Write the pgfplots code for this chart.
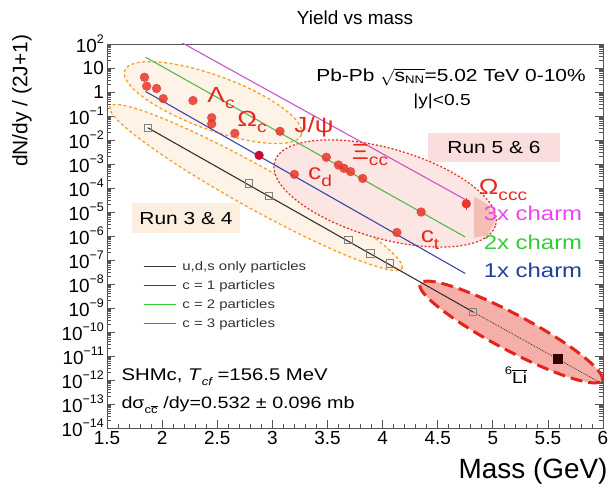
\documentclass[border=0pt]{standalone}
\usepackage{pgfplots}
\pgfplotsset{compat=1.18}
\usepackage{fontspec}
\setmainfont{Liberation Sans}[FakeStretch=1.2]
\newfontfamily\plainsans{Liberation Sans}
\definecolor{axisgray}{HTML}{555555}
\definecolor{ptred}{HTML}{E8362B}
\definecolor{ptdark}{HTML}{C0102E}
\definecolor{lblack}{HTML}{333333}
\definecolor{lblue}{HTML}{3A46A8}
\definecolor{lgreen}{HTML}{55B84F}
\definecolor{lmag}{HTML}{C855C8}
\definecolor{legblue}{HTML}{2233DD}
\definecolor{leggreen}{HTML}{33CC33}
\definecolor{legmag}{HTML}{EE22DD}
\definecolor{txtmag}{HTML}{EE44EE}
\definecolor{txtgreen}{HTML}{33CC33}
\definecolor{txtblue}{HTML}{1F3F9F}
\definecolor{labred}{HTML}{E8281E}
\definecolor{orng}{HTML}{F5A02A}
\definecolor{orngfill}{HTML}{FDF2E4}
\definecolor{redfill}{HTML}{FBE6E4}
\definecolor{runfive}{HTML}{FADEDE}
\definecolor{runthree}{HTML}{FCEFDF}
\definecolor{lifill}{HTML}{F6AFA8}
\definecolor{lired}{HTML}{E3241B}
\definecolor{salmon}{HTML}{F4BDB5}
\definecolor{legtext}{HTML}{333333}
\newcommand\fs[1]{\fontsize{#1}{#1}\selectfont}
\newcommand\sups[1]{\raisebox{0.55em}{\fs{11}#1}}
\newcommand\tsup[1]{\raisebox{0.5em}{\fs{12.5}#1}}
\newcommand\subs[2]{\raisebox{-0.3em}{\fs{#1}#2}}
\begin{document}
\begin{tikzpicture}
\useasboundingbox (0,0) rectangle (613bp,489bp);
% boxes
\fill[runfive] (428bp,327bp) rectangle (560bp,356bp);
\fill[runthree] (132bp,256bp) rectangle (240bp,286bp);
\begin{axis}[
  at={(107bp,61bp)}, anchor=south west, scale only axis,
  width=496bp, height=384bp,
  xmin=1.5, xmax=6, ymin=1e-14, ymax=1e2, ymode=log,
  axis line style={color=axisgray, line width=0.8bp},
  every tick/.style={color=axisgray, line width=0.6bp},
  major tick length=8bp, minor tick length=4bp,
  xtick={1.5,2,2.5,3,3.5,4,4.5,5,5.5,6}, minor x tick num=4,
  xticklabels={1.5,2,2.5,3,3.5,4,4.5,5,5.5,6},
  xtick pos=left, ytick pos=both,
  ytick={1e-14,1e-13,1e-12,1e-11,1e-10,1e-9,1e-8,1e-7,1e-6,1e-5,1e-4,1e-3,1e-2,1e-1,1,10,100},
  yticklabels={10\tsup{−14},10\tsup{−13},10\tsup{−12},10\tsup{−11},10\tsup{−10},10\tsup{−9},10\tsup{−8},10\tsup{−7},10\tsup{−6},10\tsup{−5},10\tsup{−4},10\tsup{−3},10\tsup{−2},10\tsup{−1},1,10,10\tsup{2}},
  yticklabel style={font=\plainsans\fs{19}, color=black, inner xsep=3bp},
  xticklabel style={font=\plainsans\fs{19}, color=black},
  legend image code/.code={\draw[#1,line width=1.5bp] (0bp,0bp) -- (32bp,0bp);},
  legend cell align=left,
  legend style={at={(rel axis cs:0.066,0.445)}, anchor=north west, draw=none, fill=none,
    font=\fs{12.5}\color{legtext}, row sep=4.5bp, column sep=4bp,
    nodes={inner sep=2bp}},
]
% ellipses
\draw[orng, line width=1.3bp, dash pattern=on 3bp off 2.5bp, fill=orngfill, fill opacity=0.9, draw opacity=1]
  [rotate around={-20:(axis cs:2.462,0.361)}] (axis cs:2.462,0.361) ellipse [x radius=94bp, y radius=27bp];
\draw[orng, line width=1.3bp, dash pattern=on 3bp off 2.5bp, fill=orngfill, fill opacity=0.9, draw opacity=1]
  [rotate around={-29:(axis cs:2.852,1.05e-4)}] (axis cs:2.852,1.05e-4) ellipse [x radius=167bp, y radius=21bp];
\draw[labred, line width=1.2bp, dash pattern=on 2bp off 2bp, fill=redfill]
  [rotate around={-16:(axis cs:4.023,5.9e-5)}] (axis cs:4.023,5.9e-5) ellipse [x radius=115bp, y radius=45bp];
\fill[salmon] (axis cs:4.83,10^-4.36) -- (axis cs:4.957,10^-4.69) -- (axis cs:5.02,10^-5.41) -- (axis cs:4.957,10^-5.96) -- (axis cs:4.83,10^-6.08) -- cycle;
\draw[lired, line width=3bp, dash pattern=on 12bp off 6bp, fill=lifill]
  [rotate around={-28:(axis cs:5.166,1e-10)}] (axis cs:5.166,1e-10) ellipse [x radius=103bp, y radius=18bp];
% model lines
\addplot[lblack, line width=1.1bp, forget plot] coordinates {(1.87,0.0324) (4.82,6.9e-10)};
\addplot[lblack, line width=0.8bp, densely dotted, forget plot] coordinates {(4.82,6.9e-10) (5.955,8.7e-13)};
\addplot[lblue, line width=1.1bp, forget plot] coordinates {(1.85,1.05) (4.75,2.75e-8)};
\addplot[lgreen, line width=1.1bp, forget plot] coordinates {(1.85,28.2) (4.75,9.1e-7)};
\addplot[lmag, line width=1.1bp, forget plot] coordinates {(2.1,180) (4.75,3.3e-5)};
% squares
\addplot[only marks, mark=square, mark size=3.6bp, color=gray, mark options={line width=0.8bp}, forget plot]
  coordinates {(1.87,0.032) (2.79,1.55e-4) (2.97,4.8e-5) (3.69,6.8e-7) (3.89,1.9e-7) (4.07,7.2e-8) (4.82,6.9e-10)};
\addplot[only marks, mark=square*, mark size=4.5bp, color=black!80!red, forget plot]
  coordinates {(5.59,8.1e-12)};
% red points
\addplot[only marks, mark=*, mark size=4.4bp, mark options={fill=ptred, draw=ptred, fill opacity=0.85, draw opacity=0.85}, forget plot]
  coordinates {(1.84,4.1) (1.86,1.75) (1.95,1.4) (2.01,0.53) (2.28,0.44) (2.45,0.085) (2.45,0.047) (2.66,0.019)
  (3.07,0.023) (3.2,3.7e-4) (3.49,1.9e-3) (3.6,9.1e-4) (3.65,6.6e-4) (3.71,4.8e-4) (3.82,2.5e-4) (4.35,1.0e-5) (4.13,1.4e-6)};
\addplot[only marks, mark=*, mark size=4.4bp, mark options={fill=ptdark, draw=ptdark}, forget plot]
  coordinates {(2.88,2.3e-3)};
\addplot[only marks, mark=*, mark size=4.4bp, color=ptred, mark options={fill=ptred, draw=ptred}, forget plot,
  error bars/.cd, y dir=both, y explicit, error bar style={ptred, line width=1bp}, error mark=none]
  coordinates {(4.76,2.2e-5) += (0,1.8e-5) -= (0,0.94e-5)};
\addlegendimage{lblack}\addlegendentry{u,d,s only particles}
\addlegendimage{legblue}\addlegendentry{c = 1 particles}
\addlegendimage{leggreen}\addlegendentry{c = 2 particles}
\addlegendimage{legmag}\addlegendentry{c = 3 particles}
\end{axis}
% texts
\node at (355bp,471bp) {\plainsans\fs{19}Yield vs mass};
\node[rotate=90] at (22bp,388bp) {\plainsans\fs{21}dN/dy / (2J+1)};
\node[anchor=east] at (611bp,18bp) {\plainsans\fs{28}Mass (GeV)};
\node at (451bp,412bp) {\fs{17.5}Pb-Pb $\sqrt{\mbox{s}_{\mbox{\fs{11}NN}}}$=5.02 TeV 0-10\%};
\node at (442bp,388bp) {\fs{16}|y|<0.5};
\node at (494bp,341bp) {\fs{17.5}Run 5 \& 6};
\node at (186bp,270bp) {\fs{17.5}Run 3 \& 4};
\begin{scope}[labred]
\node at (221bp,391bp) {\fs{22}Λ\subs{16}{c}};
\node at (252bp,367bp) {\fs{22}Ω\subs{16}{c}};
\node at (314bp,362bp) {\fs{22}J/ψ};
\node at (370bp,334bp) {\fs{22}Ξ\subs{16}{cc}};
\node at (320bp,312bp) {\fs{22}c\subs{16}{d}};
\node at (503bp,299bp) {\fs{22}Ω\subs{16}{ccc}};
\node at (430bp,249bp) {\fs{22}c\subs{16}{t}};
\end{scope}
\node[txtmag] at (533bp,276bp) {\fs{20}3x charm};
\node[txtgreen] at (533bp,247bp) {\fs{20}2x charm};
\node[txtblue] at (533bp,219bp) {\fs{20}1x charm};
\node[anchor=west] at (118bp,112bp) {\fs{17}SHMc, \textit{T}\subs{11}{\itshape cf} =156.5 MeV};
\node[anchor=west] at (118bp,84bp) {\fs{16.5}dσ\subs{11}{c$\overline{\mbox{c}}$} /dy=0.532 ± 0.096 mb};
\node at (516bp,114bp) {\fs{16}\sups{6}$\overline{\mbox{Li}}$};
\end{tikzpicture}
\end{document}
